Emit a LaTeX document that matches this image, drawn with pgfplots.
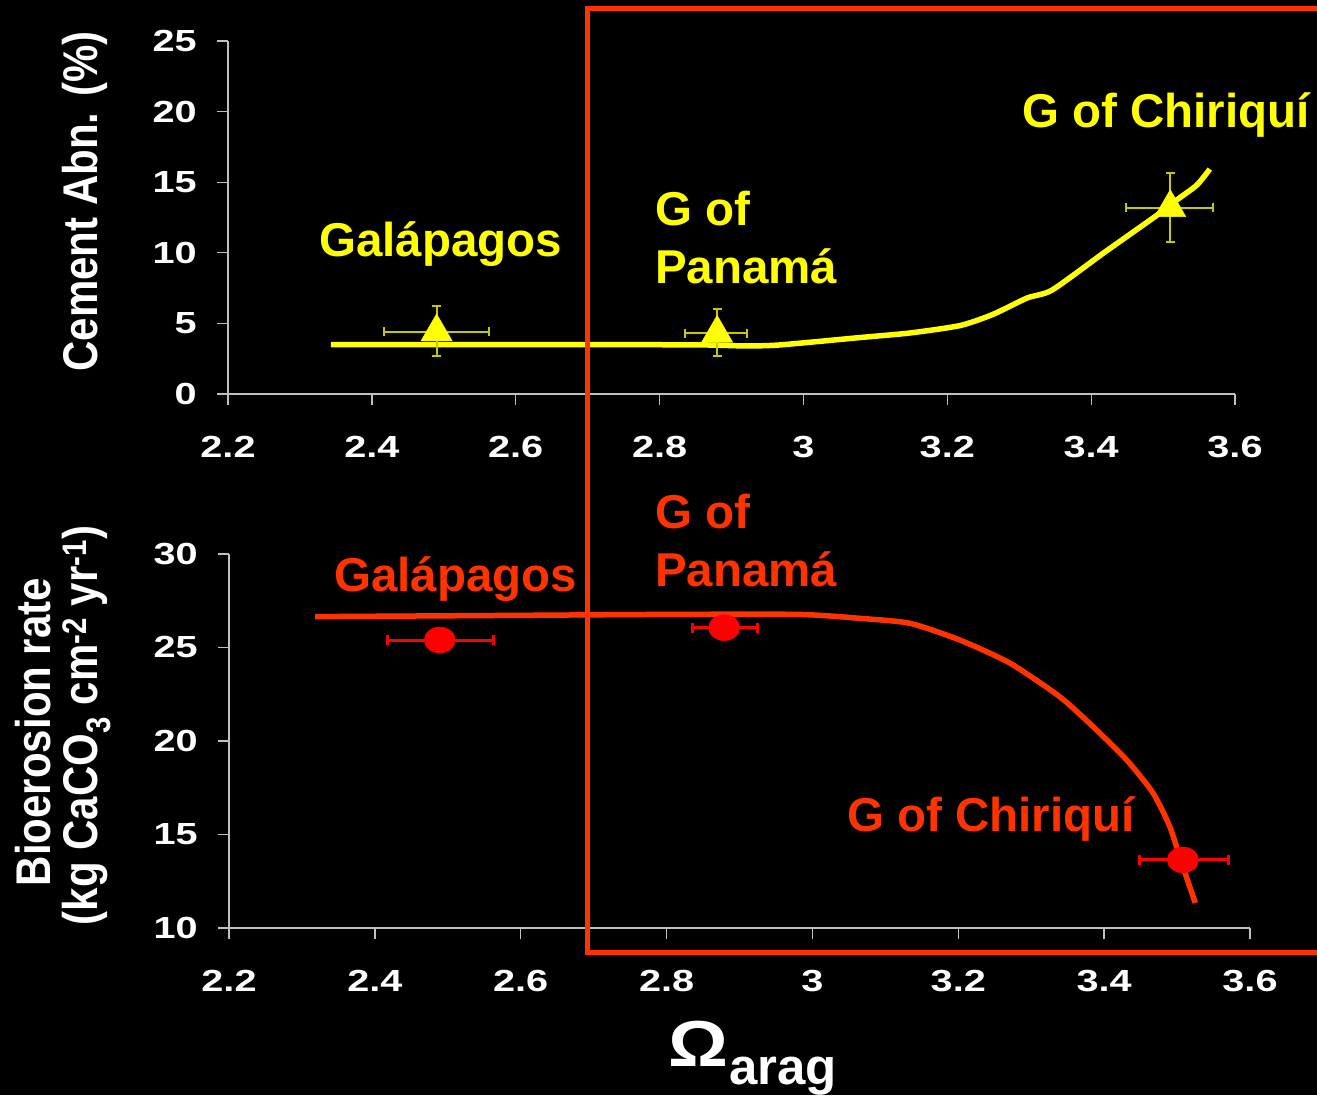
\documentclass[border=0pt]{standalone}
\usepackage{pgfplots}
\pgfplotsset{compat=1.18}
\usepackage{fontspec}
\setmainfont{Liberation Sans}
\definecolor{yel}{HTML}{FFFF00}
\definecolor{yelerr}{HTML}{C8C800}
\definecolor{redc}{HTML}{FF3300}
\definecolor{redm}{HTML}{FF0000}
\definecolor{axc}{HTML}{C0C0C0}
\pgfplotsset{
  myax/.style={
    scale only axis,
    axis x line*=bottom, axis y line*=left,
    axis line style={axc, line width=1.3pt, -},
    tick style={axc, line width=1.3pt},
    tick align=outside, major tick length=11pt,
    xmin=2.2, xmax=3.6,
    xtick={2.2,2.4,2.6,2.8,3,3.2,3.4,3.6},
    /pgf/number format/assume math mode=true,
    ticklabel style={font=\bfseries\fontsize{30.5}{30.5}\selectfont, white, xscale=1.3, inner sep=0pt},
    xticklabel style={anchor=north},
    yticklabel style={anchor=east},
    xticklabel shift=31pt,
    yticklabel shift=20pt,
    clip=false,
  }
}
\begin{document}
\begin{tikzpicture}[x=1pt,y=1pt]
\fill[black] (0,0) rectangle (1317,1095);
\useasboundingbox (0,0) rectangle (1317,1095);
\clip (0,0) rectangle (1317,1095);

% top axis
\begin{axis}[myax, at={(228pt,701pt)}, anchor=south west,
  width=1007pt, height=353pt, ymin=0, ymax=25, ytick={0,5,10,15,20,25}]
\addplot[yel, line width=5.5pt, smooth, tension=0.4] coordinates {
(2.343,3.5)(2.6,3.5)(2.85,3.48)(2.92,3.4)(2.96,3.45)(3.0,3.62)(3.079,4.0)(3.148,4.32)
(3.218,4.85)(3.264,5.65)(3.311,6.8)(3.346,7.37)(3.419,10.05)(3.492,12.68)(3.519,13.74)
(3.547,14.8)(3.565,15.93)};
\addplot[only marks, mark=triangle*, mark size=18pt, color=yel,
  error bars/.cd, x dir=both, x explicit, y dir=both, y explicit,
  error bar style={yelerr, line width=2pt},
  error mark options={rotate=90, yelerr, line width=2pt, mark size=4.5pt}]
  table[x=x, y=y, x error plus=xp, x error minus=xm, y error plus=yp, y error minus=ym] {
x y xp xm yp ym
2.490 4.4 0.073 0.073 1.8 1.7
2.880 4.3 0.042 0.044 1.7 1.6
3.510 13.2 0.060 0.062 2.45 2.44
};
\end{axis}

% bottom axis
\begin{axis}[myax, at={(229pt,167pt)}, anchor=south west,
  width=1021pt, height=374pt, ymin=10, ymax=30, ytick={10,15,20,25,30}]
\addplot[redc, line width=5.5pt, smooth, tension=0.4] coordinates {
(2.318,26.65)(2.6,26.72)(2.8,26.77)(2.98,26.77)(3.065,26.56)(3.134,26.29)(3.202,25.40)
(3.271,24.16)(3.339,22.37)(3.385,20.76)(3.431,18.98)(3.467,17.22)(3.490,15.42)(3.508,13.28)(3.525,11.34)};
\addplot[only marks, mark=*, mark size=13pt, color=redm, mark options={xscale=1.2},
  error bars/.cd, x dir=both, x explicit,
  error bar style={redm, line width=3pt},
  error mark options={rotate=90, redm, line width=3pt, mark size=5pt}]
  table[x=x, y=y, x error plus=xp, x error minus=xm] {
x y xp xm
2.489 25.4 0.073 0.072
2.879 26.06 0.045 0.043
3.508 13.64 0.063 0.060
};
\end{axis}

% red box
\draw[redc, line width=5pt] (587,1095-952.5) rectangle (1340,1095-8.5);

% annotations
\begin{scope}[every node/.style={inner sep=0pt, font=\bfseries\fontsize{47.5}{47.5}\selectfont}]
\node[yel, anchor=base west] at (319,1095-257) {Galápagos};
\node[yel, anchor=base west] at (655,1095-226) {G of};
\node[yel, anchor=base west] at (655,1095-284) {Panamá};
\node[yel, anchor=base east] at (1310,1095-128) {G of Chiriquí};
\node[redc, anchor=base west] at (334,1095-592) {Galápagos};
\node[redc, anchor=base west] at (655,1095-529) {G of};
\node[redc, anchor=base west] at (655,1095-587) {Panamá};
\node[redc, anchor=base east] at (1135,1095-832) {G of Chiriquí};
\end{scope}

% axis titles
\begin{scope}[every node/.style={inner sep=0pt, white, font=\bfseries\fontsize{42}{42}\selectfont}]
\node[anchor=base, rotate=90, yscale=1.16] at (97,1095-201.5) {Cement Abn. (\%)};
\node[anchor=base, rotate=90, yscale=1.16] at (50,1095-732) {Bioerosion rate};
\node[anchor=base, rotate=90, yscale=1.16] at (97,1095-725.5) {(kg CaCO\textsubscript{3} cm\textsuperscript{-2} yr\textsuperscript{-1})};
\node[anchor=base west, xscale=1.15, font=\bfseries\fontsize{65}{65}\selectfont] at (668,1095-1066) {Ω};
\node[anchor=base west, font=\bfseries\fontsize{51}{51}\selectfont] at (729,1095-1084) {arag};
\end{scope}
\end{tikzpicture}
\end{document}
